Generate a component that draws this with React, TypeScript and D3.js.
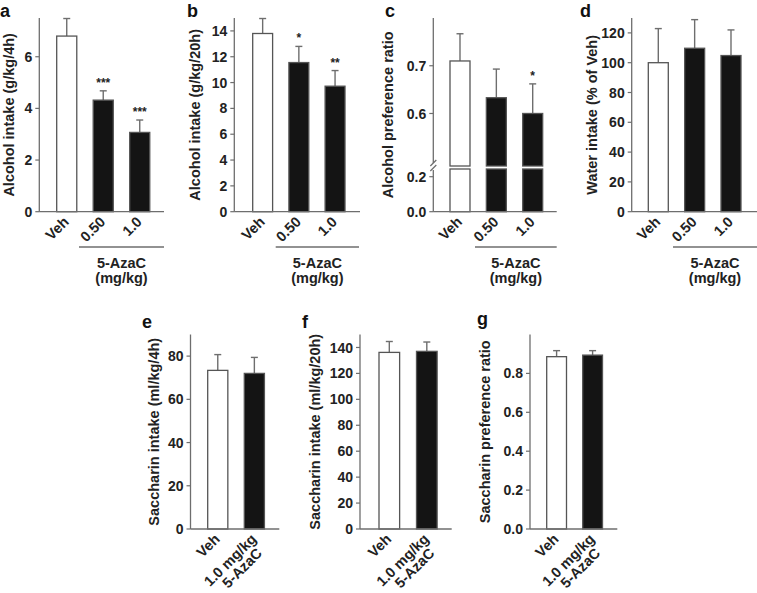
import React from "react";
import * as d3 from "d3";

// ---------- data ----------
const doseCategories = ["Veh", "0.50", "1.0"];
const alcohol4h = [6.8, 4.32, 3.07];
const alcohol4hSem = [0.68, 0.36, 0.48];
const alcohol4hStars = ["", "***", "***"];

const alcohol20h = [13.8, 11.55, 9.72];
const alcohol20hSem = [1.16, 1.25, 1.21];
const alcohol20hStars = ["", "*", "**"];

const alcoholPref = [0.71, 0.633, 0.6];
const alcoholPrefSem = [0.057, 0.06, 0.062];
const alcoholPrefStars = ["", "", "*"];

const waterIntake = [100, 109.7, 104.8];
const waterIntakeSem = [22.9, 19.2, 17.2];
const waterStars = ["", "", ""];

const saccharinCategories = ["Veh", "1.0 mg/kg"];
const saccharinSubLabels = ["", "5-AzaC"];
const saccharin4h = [73.4, 72.0];
const saccharin4hSem = [7.3, 7.4];
const saccharin20h = [136.2, 137.0];
const saccharin20hSem = [8.4, 7.2];
const saccharinPref = [0.886, 0.894];
const saccharinPrefSem = [0.031, 0.023];
const noStars2 = ["", ""];

const ticksA = [0, 2, 4, 6];
const ticksB = [0, 2, 4, 6, 8, 10, 12, 14];
const ticksCLower = [0, 0.2];
const ticksCUpper = [0.6, 0.7];
const ticksD = [0, 20, 40, 60, 80, 100, 120];
const ticksE = [0, 20, 40, 60, 80];
const ticksF = [0, 20, 40, 60, 80, 100, 120, 140];
const ticksG = [0, 0.2, 0.4, 0.6, 0.8];

const groupLabel = ["5-AzaC", "(mg/kg)"];

// ---------- style ----------
const FONT = "'Liberation Sans', Arial, Helvetica, sans-serif";
const TEXT = "#222";
const AXIS = "#6e6e6e";
const OUTLINE = "#555";
const BLACK = "#141414";
const fills = ["#ffffff", BLACK, BLACK];

type PanelProps = {
  letter: string;
  letterX: number;
  letterY: number;
  categories: string[];
  subLabels?: string[];
  values: number[];
  sems: number[];
  stars: string[];
  y: d3.ScaleLinear<number, number>;
  yUpper?: d3.ScaleLinear<number, number>;
  ticks: number[];
  ticksUpper?: number[];
  fmt: string;
  axisX: number;
  axisTop: number;
  axisBottom: number;
  axisEnd: number;
  barLeft: number;
  step: number;
  yLabel: string;
  yLabelX: number;
  group?: { x1: number; x2: number };
};

function Panel(p: PanelProps) {
  const n = p.categories.length;
  const inner = 0.45;
  const x = d3
    .scaleBand<string>()
    .domain(p.categories)
    .range([p.barLeft, p.barLeft + p.step * (n - inner)])
    .paddingInner(inner)
    .paddingOuter(0);
  const bw = x.bandwidth();
  const f = d3.format(p.fmt);
  const broken = !!p.yUpper;
  const yv = (v: number) => (p.yUpper ? p.yUpper(v) : p.y(v));
  const lowerTop = p.y.range()[1];
  const upperBottom = p.yUpper ? p.yUpper.range()[0] : 0;
  const midY = (p.axisTop + p.axisBottom) / 2;

  const tickEls = (ticks: number[], sc: d3.ScaleLinear<number, number>) =>
    ticks.map((t) => (
      <g key={"t" + t} transform={`translate(0,${sc(t)})`}>
        <line x1={p.axisX - 4} x2={p.axisX} stroke={AXIS} strokeWidth={1.2} />
        <text
          x={p.axisX - 7}
          dy="0.36em"
          textAnchor="end"
          fontSize={14}
          fontWeight="bold"
          fill={TEXT}
        >
          {f(t)}
        </text>
      </g>
    ));

  return (
    <g fontFamily={FONT}>
      <text x={p.letterX} y={p.letterY} fontSize={18} fontWeight="bold" fill="#111">
        {p.letter}
      </text>
      {/* y label */}
      <text
        transform={`translate(${p.yLabelX},${midY}) rotate(-90)`}
        textAnchor="middle"
        dy="0.36em"
        fontSize={14.5}
        fontWeight="bold"
        fill={TEXT}
      >
        {p.yLabel}
      </text>
      {/* bars */}
      {p.categories.map((c, i) => {
        const x0 = x(c)!;
        const v = p.values[i];
        const top = yv(v);
        const cx = x0 + bw / 2;
        const errTop = yv(v + p.sems[i]);
        return (
          <g key={c}>
            <line x1={cx} x2={cx} y1={top} y2={errTop} stroke={AXIS} strokeWidth={1.4} />
            <line x1={cx - 3.5} x2={cx + 3.5} y1={errTop} y2={errTop} stroke={AXIS} strokeWidth={1.4} />
            {broken ? (
              <>
                <rect x={x0} y={top} width={bw} height={upperBottom - top} fill={fills[i]} stroke={OUTLINE} strokeWidth={1.3} />
                <rect x={x0} y={lowerTop} width={bw} height={p.axisBottom - lowerTop} fill={fills[i]} stroke={OUTLINE} strokeWidth={1.3} />
              </>
            ) : (
              <rect x={x0} y={top} width={bw} height={p.axisBottom - top} fill={fills[i]} stroke={OUTLINE} strokeWidth={1.3} />
            )}
            {p.stars[i] && (
              <text x={cx} y={errTop - 4} textAnchor="middle" fontSize={12} fontWeight="bold" fill={TEXT}>
                {p.stars[i]}
              </text>
            )}
            {/* x labels */}
            <g transform={`translate(${cx + 3},${p.axisBottom + 11}) rotate(-45)`}>
              <text textAnchor="end" fontSize={14.5} fontWeight="bold" fill={TEXT}>
                {c}
              </text>
              {p.subLabels && p.subLabels[i] && (
                <text x={-6} y={14} textAnchor="end" fontSize={14.5} fontWeight="bold" fill={TEXT}>
                  {p.subLabels[i]}
                </text>
              )}
            </g>
          </g>
        );
      })}
      {/* axes */}
      {broken ? (
        <>
          <line x1={p.axisX} x2={p.axisX} y1={p.axisTop} y2={163} stroke={AXIS} strokeWidth={1.3} />
          <line x1={p.axisX} x2={p.axisX} y1={170} y2={p.axisBottom} stroke={AXIS} strokeWidth={1.3} />
          <line x1={p.axisX - 3} x2={p.axisX + 3} y1={166} y2={160} stroke={AXIS} strokeWidth={1.2} />
          <line x1={p.axisX - 3} x2={p.axisX + 3} y1={171} y2={165} stroke={AXIS} strokeWidth={1.2} />
        </>
      ) : (
        <line x1={p.axisX} x2={p.axisX} y1={p.axisTop} y2={p.axisBottom} stroke={AXIS} strokeWidth={1.3} />
      )}
      <line x1={p.axisX} x2={p.axisEnd} y1={p.axisBottom} y2={p.axisBottom} stroke={AXIS} strokeWidth={1.3} />
      {tickEls(p.ticks, p.y)}
      {p.yUpper && p.ticksUpper && tickEls(p.ticksUpper, p.yUpper)}
      {p.group && (
        <g>
          <line x1={p.group.x1} x2={p.group.x2} y1={247} y2={247} stroke={AXIS} strokeWidth={1.4} />
          <text x={(p.group.x1 + p.group.x2) / 2} y={268} textAnchor="middle" fontSize={14.5} fontWeight="bold" fill={TEXT}>
            {groupLabel[0]}
          </text>
          <text x={(p.group.x1 + p.group.x2) / 2} y={283} textAnchor="middle" fontSize={14.5} fontWeight="bold" fill={TEXT}>
            {groupLabel[1]}
          </text>
        </g>
      )}
    </g>
  );
}

export default function App() {
  const top = 18;
  const bottom = 211.7;
  const yA = d3.scaleLinear().domain([0, 7.5]).range([bottom, top]);
  const yB = d3.scaleLinear().domain([0, 15]).range([bottom, top]);
  const yCLower = d3.scaleLinear().domain([0, 0.244]).range([bottom, 169]);
  const yCUpper = d3.scaleLinear().domain([0.49, 0.8]).range([166, top]);
  const yD = d3.scaleLinear().domain([0, 130]).range([bottom, top]);
  const bTop = 334.5;
  const bBottom = 529;
  const yE = d3.scaleLinear().domain([0, 90]).range([bBottom, bTop]);
  const yF = d3.scaleLinear().domain([0, 150]).range([bBottom, bTop]);
  const yG = d3.scaleLinear().domain([0, 1]).range([bBottom, bTop]);

  return (
    <svg
      width={757}
      height={593}
      style={{ position: "absolute", left: 0, top: 0, background: "#fff" }}
    >
      <rect width={757} height={593} fill="#fff" />
      <Panel
        letter="a" letterX={0} letterY={17}
        categories={doseCategories} values={alcohol4h} sems={alcohol4hSem} stars={alcohol4hStars}
        y={yA} ticks={ticksA} fmt="d"
        axisX={39.3} axisTop={top} axisBottom={bottom} axisEnd={164}
        barLeft={56.7} step={36.5}
        yLabel="Alcohol intake (g/kg/4h)" yLabelX={9}
        group={{ x1: 79, x2: 164 }}
      />
      <Panel
        letter="b" letterX={187} letterY={17}
        categories={doseCategories} values={alcohol20h} sems={alcohol20hSem} stars={alcohol20hStars}
        y={yB} ticks={ticksB} fmt="d"
        axisX={234.3} axisTop={top} axisBottom={bottom} axisEnd={360}
        barLeft={252.7} step={36.2}
        yLabel="Alcohol intake (g/kg/20h)" yLabelX={195}
        group={{ x1: 275.7, x2: 359 }}
      />
      <Panel
        letter="c" letterX={385} letterY={17}
        categories={doseCategories} values={alcoholPref} sems={alcoholPrefSem} stars={alcoholPrefStars}
        y={yCLower} yUpper={yCUpper} ticks={ticksCLower} ticksUpper={ticksCUpper} fmt=".1f"
        axisX={433.3} axisTop={top} axisBottom={bottom} axisEnd={556.7}
        barLeft={450} step={36.35}
        yLabel="Alcohol preference ratio" yLabelX={388}
        group={{ x1: 475, x2: 556.7 }}
      />
      <Panel
        letter="d" letterX={580} letterY={17}
        categories={doseCategories} values={waterIntake} sems={waterIntakeSem} stars={waterStars}
        y={yD} ticks={ticksD} fmt="d"
        axisX={631.7} axisTop={top} axisBottom={bottom} axisEnd={757}
        barLeft={648.3} step={36.35}
        yLabel="Water intake (% of Veh)" yLabelX={591.5}
        group={{ x1: 673, x2: 757 }}
      />
      <Panel
        letter="e" letterX={142} letterY={328}
        categories={saccharinCategories} subLabels={saccharinSubLabels}
        values={saccharin4h} sems={saccharin4hSem} stars={noStars2}
        y={yE} ticks={ticksE} fmt="d"
        axisX={190.5} axisTop={bTop} axisBottom={bBottom} axisEnd={279.3}
        barLeft={207.7} step={36.6}
        yLabel="Saccharin intake (ml/kg/4h)" yLabelX={154}
      />
      <Panel
        letter="f" letterX={302} letterY={328}
        categories={saccharinCategories} subLabels={saccharinSubLabels}
        values={saccharin20h} sems={saccharin20hSem} stars={noStars2}
        y={yF} ticks={ticksF} fmt="d"
        axisX={360} axisTop={bTop} axisBottom={bBottom} axisEnd={451.7}
        barLeft={379} step={37.5}
        yLabel="Saccharin intake (ml/kg/20h)" yLabelX={315}
      />
      <Panel
        letter="g" letterX={477} letterY={325}
        categories={saccharinCategories} subLabels={saccharinSubLabels}
        values={saccharinPref} sems={saccharinPrefSem} stars={noStars2}
        y={yG} ticks={ticksG} fmt=".1f"
        axisX={530} axisTop={bTop} axisBottom={bBottom} axisEnd={617.3}
        barLeft={546.7} step={36}
        yLabel="Saccharin preference ratio" yLabelX={485}
      />
    </svg>
  );
}
